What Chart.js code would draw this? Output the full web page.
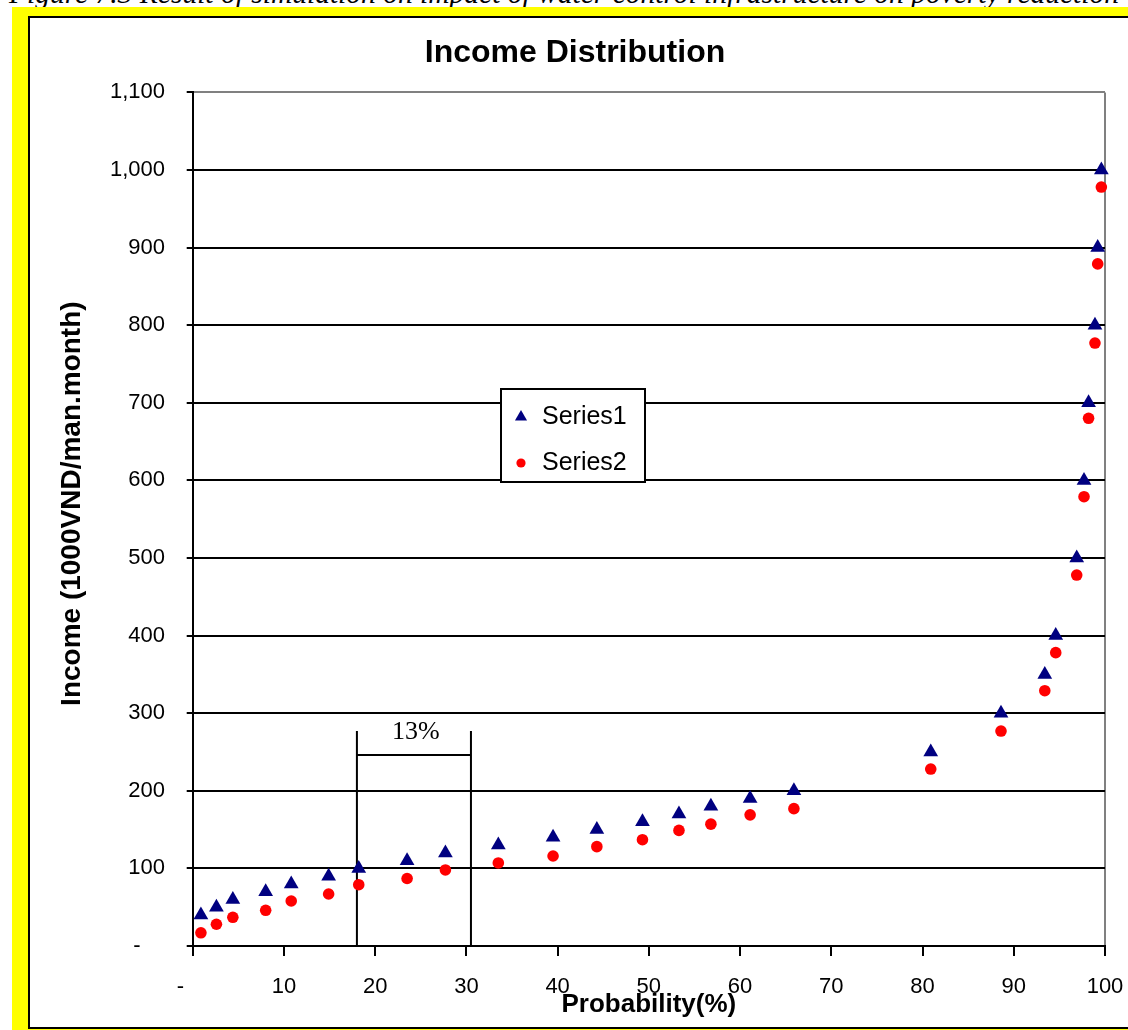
<!DOCTYPE html>
<html lang="en">
<head>
  <meta charset="UTF-8" />
  <title>Income Distribution</title>
  <script src="https://cdn.jsdelivr.net/npm/chart.js"></script>
  <style>
    html, body { margin: 0; padding: 0; width: 1128px; height: 1030px; overflow: hidden; background: #fff; }
    .caption {
      position: absolute; left: 9px; top: -21.5px;
      font: italic 29.5px/29.5px "Liberation Serif", "Times New Roman", serif;
      white-space: nowrap; color: #000;
    }
    .frame { position: absolute; left: 12px; top: 7px; right: 0; bottom: 0; background: #ffff00; }
    .box {
      position: absolute; left: 16px; top: 9px; width: 1200px; height: 1009px;
      border: 2px solid #000; background: #fff;
    }
    .box canvas { position: absolute; left: 0; top: 0; }
  </style>
</head>
<body>
  <div class="caption">Figure 7.3 Result of simulation on impact of water control infrastructure on poverty reduction</div>
  <div class="frame">
    <div class="box">
      <canvas id="incomeChart" width="1098" height="1009"></canvas>
    </div>
  </div>

  <script>
    // values
    const probability = [0.9, 2.6, 4.4, 8.0, 10.8, 14.9, 18.2, 23.5, 27.7, 33.5, 39.5, 44.3, 49.3, 53.3,
                         56.8, 61.1, 65.9, 80.9, 88.6, 93.4, 94.6, 96.9, 97.7, 98.2, 98.9, 99.2, 99.6];
    const series1 = [40, 50, 60, 70, 80, 90, 100, 110, 120, 130, 140, 150, 160, 170,
                     180, 190, 200, 250, 300, 350, 400, 500, 600, 700, 800, 900, 1000];
    const series2 = [17, 28, 37, 46, 58, 67, 79, 87, 98, 107, 116, 128, 137, 149,
                     157, 169, 177, 228, 277, 329, 378, 478, 579, 680, 777, 879, 978];

    const yTickLabels = ['-', '100', '200', '300', '400', '500', '600', '700', '800', '900', '1,000', '1,100'];
    const xTickLabels = ['-', '10', '20', '30', '40', '50', '60', '70', '80', '90', '100'];

    // the "13%" bracket
    const bracketX = [18, 30.5];
    const bracketTop = 277;
    const bracketBar = 246;
    const bracketText = 276;
    const bracketLabel = '13%';

    const sans = '"Liberation Sans", Arial, sans-serif';
    const serif = '"Liberation Serif", "Times New Roman", serif';

    const bracketPlugin = {
      id: 'bracket',
      beforeDatasetsDraw(chart) {
        const { ctx, scales: { x, y } } = chart;
        const xl = x.getPixelForValue(bracketX[0]);
        const xr = x.getPixelForValue(bracketX[1]);
        const yt = y.getPixelForValue(bracketTop);
        const yb = y.getPixelForValue(bracketBar);
        const y0 = y.getPixelForValue(0);
        ctx.save();
        ctx.strokeStyle = '#000';
        ctx.lineWidth = 2;
        ctx.beginPath();
        ctx.moveTo(xl, yt); ctx.lineTo(xl, y0);
        ctx.moveTo(xr, yt); ctx.lineTo(xr, y0);
        ctx.moveTo(xl, yb); ctx.lineTo(xr, yb);
        ctx.stroke();
        ctx.fillStyle = '#000';
        ctx.font = '26px ' + serif;
        ctx.textAlign = 'center';
        ctx.textBaseline = 'middle';
        ctx.fillText(bracketLabel, (xl + xr) / 2 + 2, y.getPixelForValue(bracketText));
        ctx.restore();
      }
    };

    // legend box sitting inside the plot
    const boxLegend = {
      id: 'boxLegend',
      afterDraw(chart) {
        const ctx = chart.ctx;
        const bx = 471, by = 371, bw = 144, bh = 93;
        ctx.save();
        ctx.fillStyle = '#fff';
        ctx.fillRect(bx, by, bw, bh);
        ctx.strokeStyle = '#000';
        ctx.lineWidth = 2;
        ctx.strokeRect(bx, by, bw, bh);
        const rows = [399, 445];
        chart.data.datasets.forEach((ds, i) => {
          ctx.fillStyle = ds.backgroundColor;
          ctx.strokeStyle = ds.backgroundColor;
          Chart.helpers.drawPoint(ctx, {
            pointStyle: ds.pointStyle,
            radius: ds.pointStyle === 'triangle' ? 7 : 4.6,
            rotation: 0,
            borderWidth: 0
          }, 491, rows[i]);
          ctx.fillStyle = '#000';
          ctx.font = '25px ' + sans;
          ctx.textAlign = 'left';
          ctx.textBaseline = 'middle';
          ctx.fillText(ds.label, 512, rows[i]);
        });
        ctx.restore();
      }
    };

    const ctx = document.getElementById('incomeChart').getContext('2d');
    new Chart(ctx, {
      type: 'scatter',
      data: {
        datasets: [{
          label: 'Series1',
          data: probability.map((p, i) => ({ x: p, y: series1[i] })),
          pointStyle: 'triangle',
          pointRadius: 8.5,
          pointBorderWidth: 0,
          backgroundColor: '#000080',
          borderColor: '#000080',
          clip: false
        }, {
          label: 'Series2',
          data: probability.map((p, i) => ({ x: p, y: series2[i] })),
          pointStyle: 'circle',
          pointRadius: 5.8,
          pointBorderWidth: 0,
          backgroundColor: '#ff0000',
          borderColor: '#ff0000',
          clip: false
        }]
      },
      options: {
        responsive: false,
        animation: false,
        layout: { padding: { top: 0, right: 23, bottom: 0, left: 15 } },
        plugins: {
          legend: { display: false },
          tooltip: { enabled: false },
          title: {
            display: true,
            text: 'Income Distribution',
            color: '#000',
            font: { family: sans, size: 32, weight: 'bold' },
            padding: { top: 16, bottom: 20 }
          }
        },
        scales: {
          x: {
            type: 'linear',
            min: 0,
            max: 100,
            afterFit: s => { s.height = 81; s.paddingRight = 20; },
            ticks: {
              stepSize: 10,
              color: '#000',
              padding: 18,
              maxRotation: 0,
              font: { family: sans, size: 22 },
              callback: (v, i) => i === 0 ? xTickLabels[0] + '    ' : xTickLabels[i]
            },
            grid: {
              color: c => (c.tick && c.tick.value === 100) ? '#808080' : 'rgba(0,0,0,0)',
              lineWidth: 2,
              tickColor: '#000',
              tickLength: 10
            },
            border: { color: '#000', width: 2 },
            title: {
              display: true,
              text: 'Probability(%)',
              color: '#000',
              font: { family: sans, size: 26, weight: 'bold' },
              padding: { top: 0, bottom: 7 }
            }
          },
          y: {
            min: 0,
            max: 1100,
            afterFit: s => { s.width = 147.7; },
            ticks: {
              stepSize: 100,
              color: '#000',
              padding: 21.7,
              font: { family: sans, size: 22 },
              callback: (v, i) => i === 0 ? yTickLabels[0] + '    ' : yTickLabels[i]
            },
            grid: {
              color: c => (c.tick && c.tick.value === 1100) ? '#808080' : '#000',
              lineWidth: 2,
              tickColor: '#000',
              tickLength: 6
            },
            border: { color: '#000', width: 2 },
            title: {
              display: true,
              text: '    Income (1000VND/man.month)',
              color: '#000',
              font: { family: sans, size: 28, weight: 'bold' },
              padding: { top: 10.2, bottom: 0 }
            }
          }
        }
      },
      plugins: [bracketPlugin, boxLegend]
    });
  </script>
</body>
</html>
